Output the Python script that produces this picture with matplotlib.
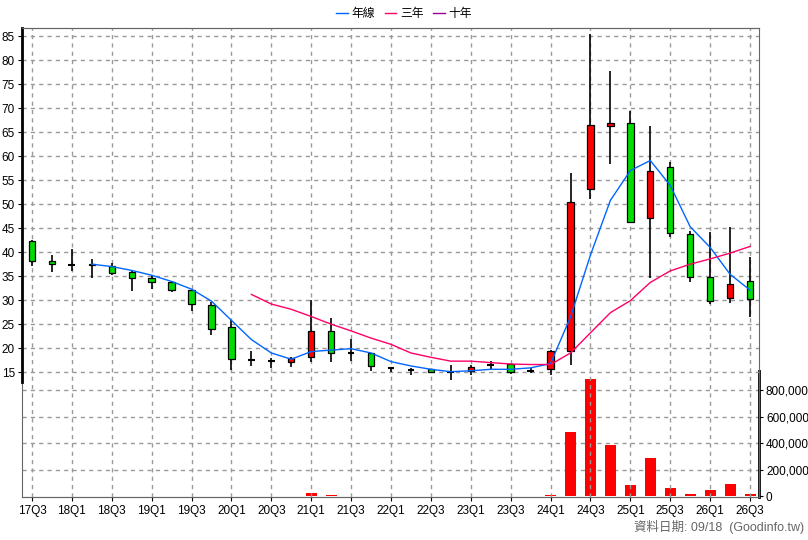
import matplotlib

matplotlib.use("Agg")
import matplotlib.pyplot as plt
import numpy as np

plt.rcParams["font.family"] = ["Liberation Sans", "Noto Sans CJK TC", "DejaVu Sans"]

# quarters 17Q3 .. 26Q3
QUARTERS = [f"{y}Q{q}" for y in range(17, 27) for q in range(1, 5)][2:39]

OPEN = [42.4, 38.1, 37.3, 37.6, 37.2, 35.8, 34.6, 33.8, 32.1, 29.1, 24.4, 17.5, 17.4, 17.2,
        18.1, 23.6, 19.0, 18.9, 15.9, 15.5, 15.6, 15.0, 15.3, 16.5, 16.7, 15.3, 15.6, 19.5,
        53.2, 66.3, 67.0, 47.1, 57.7, 43.8, 34.8, 30.4, 34.0]
HIGH = [42.5, 39.4, 40.7, 38.6, 37.7, 36.3, 35.2, 34.0, 32.2, 29.7, 25.9, 19.4, 18.0, 18.2,
        30.1, 26.2, 21.9, 19.1, 16.0, 15.9, 15.7, 16.5, 16.5, 17.3, 16.8, 15.9, 19.7, 56.4,
        85.5, 77.8, 69.4, 66.3, 58.7, 44.5, 44.3, 45.3, 38.9]
LOW = [37.2, 35.9, 36.1, 34.6, 35.2, 31.9, 32.3, 31.7, 27.8, 22.8, 15.5, 16.3, 15.8, 16.1,
       17.2, 17.2, 17.3, 15.2, 15.1, 14.5, 14.9, 13.4, 14.5, 15.6, 14.7, 14.9, 14.5, 16.4,
       51.1, 58.4, 46.0, 34.7, 43.1, 33.7, 29.3, 29.5, 26.4]
CLOSE = [38.2, 37.5, 37.3, 37.4, 35.7, 34.6, 33.8, 32.2, 29.2, 23.9, 17.7, 17.5, 17.4, 17.9,
         23.6, 18.9, 19.0, 16.3, 15.9, 15.5, 15.1, 15.0, 16.0, 16.5, 15.1, 15.3, 19.4, 50.4,
         66.4, 67.0, 46.2, 57.0, 44.0, 34.9, 29.8, 33.3, 30.2]
VOLUME = [4000, 3000, 3000, 3000, 2000, 2000, 2000, 2000, 2000, 2000, 3000, 3000, 3000, 3000,
          25000, 12000, 6000, 5000, 5000, 5000, 5000, 5000, 4000, 4000, 3000, 3000, 12000, 485000,
          882000, 387000, 87000, 290000, 65000, 20000, 50000, 95000, 20000]
MA_YEAR = [np.nan] * 3 + [37.5, 37.0, 36.2, 35.2, 33.9, 32.3, 29.8, 25.8, 21.8, 19.0, 17.7,
                          19.3, 19.6, 19.9, 19.0, 17.2, 16.3, 15.6, 15.1, 15.3, 15.6, 15.6, 15.9,
                          16.8, 26.5, 39.4, 50.8, 57.0, 59.1, 53.9, 45.3, 41.0, 35.4, 32.1]
MA_3Y = [np.nan] * 11 + [31.2, 29.2, 28.1, 26.6, 25.0, 23.6, 22.1, 20.8, 19.0, 18.1, 17.3,
                         17.3, 17.0, 16.7, 16.6, 16.6, 19.0, 23.2, 27.4, 29.9, 33.7, 36.1, 37.5,
                         38.6, 39.8, 41.2]

x = np.arange(len(QUARTERS))
fig = plt.figure(figsize=(8.08, 5.4), dpi=100)
ax = fig.add_axes([22 / 808, 1 - 497 / 540, 737 / 808, 469 / 540])
axv = ax.twinx()

ax.set_xlim(-0.5, len(x) - 0.55)
ax.set_ylim(-11.0, 86.7)
axv.set_ylim(-5000, 3.52e6)

# grid
for v in range(15, 90, 5):
    ax.axhline(v, color="#999999", lw=1, ls=(0, (3, 3)), zorder=0)
for v in range(200000, 1000000, 200000):
    axv.axhline(v, color="#999999", lw=1, ls=(0, (3, 3)), zorder=0)
for i in x[::2]:
    ax.axvline(i, color="#999999", lw=1, ls=(0, (3, 3)), zorder=0)

axv.bar(x, VOLUME, width=0.55, color="#ff0000", zorder=2)

for i in x:
    o, h, l, c = OPEN[i], HIGH[i], LOW[i], CLOSE[i]
    ax.vlines(i, l, h, color="black", lw=1.2, zorder=3)
    if abs(c - o) < 0.15:
        ax.hlines(o, i - 0.17, i + 0.17, color="black", lw=1.5, zorder=4)
    else:
        col = "#ff0000" if c > o else "#00dd00"
        ax.bar(i, c - o, bottom=o, width=0.32, color=col, edgecolor="black", lw=0.9, zorder=4)

ax.plot(x, MA_YEAR, color="#0066ff", lw=1, zorder=5)
ax.plot(x, MA_3Y, color="#ff0066", lw=1, zorder=5)

ax.set_zorder(axv.get_zorder() + 1)
ax.patch.set_visible(False)

ax.set_xticks(x[::2])
ax.set_xticklabels(QUARTERS[::2], fontsize=8.5)
ax.set_yticks(range(15, 90, 5))
ax.tick_params(axis="y", labelsize=8.5, length=3, pad=2)
ax.tick_params(axis="x", length=3, pad=3)
axv.set_yticks(range(0, 1000000, 200000))
axv.set_yticklabels([f"{v:,}" for v in range(0, 1000000, 200000)], fontsize=8.5)
axv.tick_params(axis="y", length=3, pad=2)

for a in (ax, axv):
    for s in a.spines.values():
        s.set_color("#666666")
        s.set_linewidth(0.8)
ax.spines["left"].set_bounds(13, 86.7)
ax.spines["left"].set_linewidth(2)
ax.spines["left"].set_color("black")
axv.spines["right"].set_bounds(-5000, 940000)
axv.spines["right"].set_linewidth(2)
axv.spines["right"].set_color("black")

handles = [plt.Line2D([], [], color="#0066ff", lw=1, label="年線"),
           plt.Line2D([], [], color="#ff0066", lw=1, label="三年"),
           plt.Line2D([], [], color="#990099", lw=1, label="十年")]
fig.legend(handles=handles, loc="upper center", bbox_to_anchor=(0.5, 1.005), ncol=3,
           frameon=False, fontsize=8.5, handlelength=1.0, handletextpad=0.3, columnspacing=0.8)

fig.text(0.995, 0.012, "資料日期: 09/18  (Goodinfo.tw)", ha="right", va="bottom",
         fontsize=9, color="#666666")

fig.savefig("out.png", dpi=100, facecolor="white")
